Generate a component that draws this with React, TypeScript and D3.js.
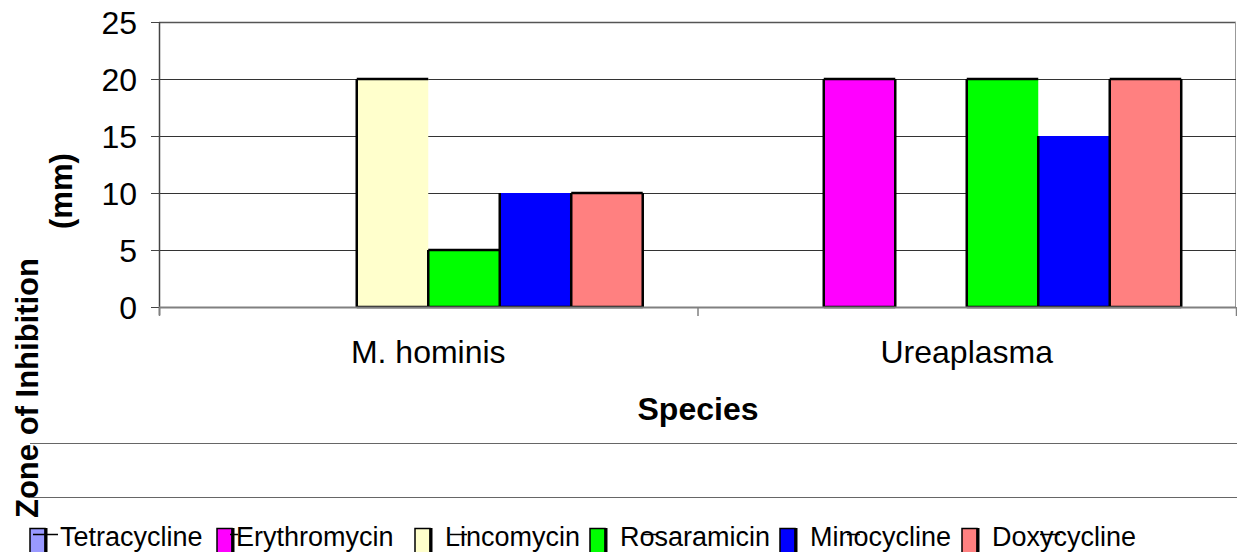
import React from "react";
import * as d3 from "d3";

const categories = ["M. hominis", "Ureaplasma"];
const seriesNames = ["Tetracycline", "Erythromycin", "Lincomycin", "Rosaramicin", "Minocycline", "Doxycycline"];
// values per series, in category order
const tetracycline = [0, 0];
const erythromycin = [0, 20];
const lincomycin = [20, 0];
const rosaramicin = [5, 20];
const minocycline = [10, 15];
const doxycycline = [10, 20];
const yTicks = [0, 5, 10, 15, 20, 25];

const seriesValues = [tetracycline, erythromycin, lincomycin, rosaramicin, minocycline, doxycycline];
const colors = ["#9999FF", "#FF00FF", "#FFFFCC", "#00FF00", "#0000FF", "#FF8080"];
// which sides of each bar get the black outline (L, T, R, B), as the original renders
const outlineSides = ["LTRB", "LTRB", "LTB", "LTB", "LB", "LTRB"];
// legend layout
const legendTextX = [60, 236, 445, 620, 810, 992];
const legendDash = [[-27, -2], [-6, 2], [5, 22], [22, 37], [37, 50], [48, 68]];

const W = 1237;
const H = 552;
const font = "'Liberation Sans', Arial, sans-serif";

export default function App() {
  const left = 159, right = 1236, top = 22, bottom = 307;

  const x0 = d3.scaleBand().domain(categories).range([left, right]).padding(0);
  const x1 = d3
    .scaleBand()
    .domain(seriesNames)
    .range([0, x0.bandwidth()])
    .paddingInner(0)
    .paddingOuter(0.766);
  const y = d3.scaleLinear().domain([0, 25]).range([bottom, top]);

  const bars = [];
  categories.forEach((cat, ci) => {
    seriesNames.forEach((s, si) => {
      const v = seriesValues[si][ci];
      if (!v) return;
      const bx = x0(cat) + x1(s);
      const bw = x1.bandwidth();
      const by = y(v);
      const sides = outlineSides[si];
      let d = "";
      if (sides.includes("L")) d += `M${bx},${bottom}V${by}`;
      if (sides.includes("T")) d += `M${bx},${by}H${bx + bw}`;
      if (sides.includes("R")) d += `M${bx + bw},${by}V${bottom}`;
      if (sides.includes("B")) d += `M${bx},${bottom}H${bx + bw}`;
      bars.push(
        <g key={cat + s}>
          <rect x={bx} y={by} width={bw} height={bottom - by} fill={colors[si]} />
          <path d={d} fill="none" stroke="#000" strokeWidth={2.5} />
        </g>
      );
    });
  });

  return (
    <div style={{ position: "absolute", left: 0, top: 0 }}>
      <svg width={W} height={H} style={{ display: "block", background: "#fff" }} fontFamily={font}>
        {/* plot frame */}
        <line x1={left} x2={right} y1={top + 0.5} y2={top + 0.5} stroke="#555" strokeWidth={1.5} />
        <line x1={right - 0.5} x2={right - 0.5} y1={top} y2={bottom} stroke="#999" strokeWidth={1} />
        {/* gridlines */}
        {yTicks.filter(t => t > 0 && t < 25).map(t => (
          <line key={t} x1={left} x2={right} y1={Math.round(y(t)) + 0.5} y2={Math.round(y(t)) + 0.5} stroke="#333" strokeWidth={1} />
        ))}
        {bars}
        {/* y axis */}
        <line x1={left + 0.5} x2={left + 0.5} y1={top} y2={bottom + 8} stroke="#444" strokeWidth={1.5} />
        {yTicks.map(t => (
          <g key={t}>
            <line x1={left - 8} x2={left} y1={Math.round(y(t)) + 0.5} y2={Math.round(y(t)) + 0.5} stroke="#444" strokeWidth={1} />
            <text x={137} y={y(t) + 11.5} textAnchor="end" fontSize={32} fill="#000">{t}</text>
          </g>
        ))}
        {/* x axis */}
        <line x1={left} x2={right} y1={bottom + 0.5} y2={bottom + 0.5} stroke="#808080" strokeWidth={2} />
        {[left, x0(categories[1]), right].map((tx, i) => (
          <line key={i} x1={tx + 0.5} x2={tx + 0.5} y1={bottom} y2={bottom + 9} stroke="#808080" strokeWidth={1.5} />
        ))}
        {categories.map(c => (
          <text key={c} x={x0(c) + x0.bandwidth() / 2} y={363} textAnchor="middle" fontSize={32} fill="#000">{c}</text>
        ))}
        <text x={698} y={420} textAnchor="middle" fontSize={32} fontWeight="bold" fill="#000">Species</text>
        {/* y axis title */}
        <text transform="translate(38,518) rotate(-90)" fontSize={31} fontWeight="bold" fill="#000">Zone of Inhibition</text>
        <text transform="translate(72,229) rotate(-90)" fontSize={31} fontWeight="bold" fill="#000">(mm)</text>
        {/* stray lines */}
        <line x1={30} x2={W} y1={443.5} y2={443.5} stroke="#666" strokeWidth={1} />
        <line x1={30} x2={W} y1={497.5} y2={497.5} stroke="#666" strokeWidth={1} />
        {/* legend */}
        {seriesNames.map((s, i) => {
          const tx = legendTextX[i];
          const sx = i === 1 ? tx - 19 : tx - 30;
          return (
            <g key={s}>
              <rect x={sx} y={528.5} width={15} height={30} fill={colors[i]} stroke="#000" strokeWidth={1.5} />
              <line x1={sx + 16} x2={sx + 16} y1={528} y2={552} stroke="#000" strokeWidth={3} />
              <line x1={tx + legendDash[i][0]} x2={tx + legendDash[i][1]} y1={534.5} y2={534.5} stroke="#000" strokeWidth={1.5} />
              <text x={tx} y={546} fontSize={27} fill="#000">{s}</text>
            </g>
          );
        })}
      </svg>
    </div>
  );
}
